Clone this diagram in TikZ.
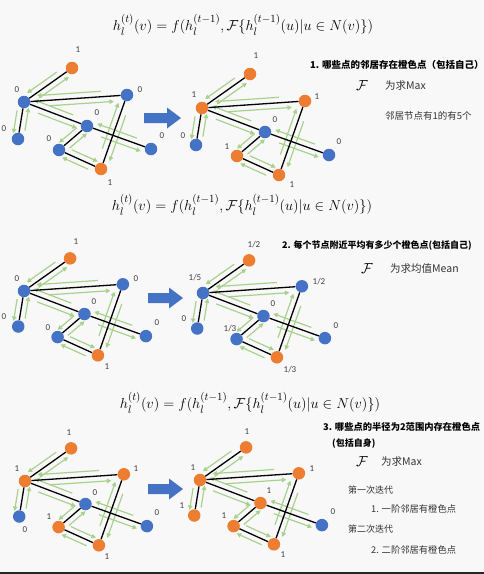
\documentclass[tikz,border=0pt]{standalone}
\usepackage{fontspec}
\usepackage{amsmath}
\newfontfamily\cjk{Noto Sans CJK SC}
\newfontfamily\labf{Carlito}
\usetikzlibrary{calc,arrows.meta}
\definecolor{nb}{HTML}{4472C4}
\definecolor{no}{HTML}{ED7D31}
\definecolor{ng}{HTML}{A9D18E}
\definecolor{bgc}{HTML}{F8F8F8}
\definecolor{txt}{HTML}{333333}
\definecolor{lbc}{HTML}{404040}
\pgfdeclarelayer{bg}\pgfdeclarelayer{mid}\pgfsetlayers{bg,mid,main}
\tikzset{
  nd/.style={circle,minimum size=12.5pt,inner sep=0pt,draw=none},
  edge/.style={black,line width=1.3pt},
  garrow/.style={ng,line width=1.2pt,-{Triangle[length=4.5pt,width=4.5pt]}},
  lbl/.style={font=\labf\fontsize{9}{10}\selectfont,text=lbc,inner sep=0pt},
  eqn/.style={inner sep=0pt,font=\fontsize{15.5}{18}\selectfont},
  head/.style={anchor=west,inner sep=0pt,font=\cjk\bfseries\fontsize{9}{11}\selectfont,text=black},
  body/.style={anchor=west,inner sep=0pt,font=\cjk\fontsize{9.3}{11}\selectfont,text=txt},
  calF/.style={inner sep=0pt,font=\fontsize{15}{17}\selectfont},
  barrow/.style={fill=nb,draw=none}
}
\newcommand\garr[3]{%
  \draw[garrow] ($(#1)!0.25!(#2)!5.5pt!#3:(#2)$) -- ($(#1)!0.87!(#2)!5.5pt!#3:(#2)$);
  \draw[garrow] ($(#2)!0.25!(#1)!5.5pt!#3:(#1)$) -- ($(#2)!0.87!(#1)!5.5pt!#3:(#1)$);
}
\newcommand\gpanel[9]{%
  \begin{scope}[#2]
    \node[nd,fill=#3] (#1T) at (48,-34) {};
    \node[nd,fill=#4] (#1A) at (0,0) {};
    \node[nd,fill=#5] (#1B) at (-6,37) {};
    \node[nd,fill=#6] (#1C) at (103,-7) {};
    \node[nd,fill=#7] (#1D) at (63,24) {};
    \node[nd,fill=#8] (#1E) at (35,48) {};
    \node[nd,fill=#9] (#1F) at (77,67) {};
    \node[nd,fill=nb] (#1G) at (127,47) {};
  \end{scope}
  \begin{pgfonlayer}{mid}
    \garr{#1T}{#1A}{-90}
    \garr{#1A}{#1C}{-90}
    \garr{#1A}{#1B}{-90}
    \garr{#1A}{#1D}{-90}
    \garr{#1D}{#1G}{-90}
    \garr{#1D}{#1E}{-90}
    \garr{#1E}{#1F}{90}
    \garr{#1F}{#1C}{90}
    \draw[edge] (#1T) -- (#1A);
    \draw[edge] (#1A) -- (#1C);
    \draw[edge] (#1A) -- (#1B);
    \draw[edge] (#1A) -- (#1D) -- (#1G);
    \draw[edge] (#1D) -- (#1E);
    \draw[edge] (#1E) -- (#1F);
    \draw[edge] (#1F) -- (#1C);
  \end{pgfonlayer}
}
\newcommand\lb[3]{\node[lbl] (#1) at (#2) {#3};}
\newcommand\bigarrow[3]{% x0, xtip, ycenter
  \fill[barrow] (#1,#3-5) -- (#2-14,#3-5) -- (#2-14,#3-10.5) -- (#2,#3) -- (#2-14,#3+10.5) -- (#2-14,#3+5) -- (#1,#3+5) -- cycle;
}
\newcommand\eqtext{$h_l^{(t)}(v)=f(h_l^{(t-1)},\mathcal{F}\{h_l^{(t-1)}(u)|u\in N(v)\})$}
\begin{document}
\begin{tikzpicture}[x=1pt,y=-1pt]
\useasboundingbox (0,0) rectangle (484,574);
\begin{pgfonlayer}{bg}
  \fill[bgc] (0,0) rectangle (484,574);
  \fill[black!85] (0,571.5) rectangle (484,574);
\end{pgfonlayer}

% ---------- Section 1 ----------
\node[eqn] (eq1) at (243,25) {\eqtext};
\gpanel{pa}{shift={(24,102)}}{no}{nb}{nb}{nb}{nb}{nb}{no}
\gpanel{pb}{shift={(202,108)}}{no}{no}{nb}{no}{nb}{no}{no}
\bigarrow{144}{181}{118}
\lb{laT}{78,50}{1}\lb{laA}{17,90}{0}\lb{laB}{4,129}{0}\lb{laC}{140,90}{0}
\lb{laD}{97,113}{0}\lb{laE}{49,139}{0}\lb{laF}{110,183}{1}\lb{laG}{162,136}{0}
\lb{lbT}{256,56}{1}\lb{lbA}{194,95}{1}\lb{lbB}{183,136}{0}\lb{lbC}{317,97}{1}
\lb{lbD}{275,120}{0}\lb{lbE}{227,147}{1}\lb{lbF}{292,185}{1}\lb{lbG}{339,142}{0}
\node[head,font=\cjk\bfseries\fontsize{9.5}{11}\selectfont] (h1) at (310,65) {1. 哪些点的邻居存在橙色点（包括自己）};
\node[calF] (F1) at (362,86) {$\mathcal{F}$};
\node[body,font=\cjk\fontsize{10.5}{12}\selectfont] (t1a) at (385,86) {为求Max};
\node[body,font=\cjk\fontsize{9.5}{11}\selectfont] (t1b) at (385,116) {邻居节点有1的有5个};

% ---------- Section 2 ----------
\node[eqn] (eq2) at (242,205) {\eqtext};
\gpanel{pc}{shift={(24,291)},scale=0.96}{no}{nb}{nb}{nb}{nb}{nb}{no}
\gpanel{pd}{shift={(203,293)},scale=0.96}{no}{nb}{nb}{nb}{nb}{nb}{no}
\bigarrow{148}{183}{298}
\lb{lcT}{76,242}{1}\lb{lcA}{17,279}{0}\lb{lcB}{4,317}{0}\lb{lcC}{136,279}{0}
\lb{lcD}{94,302}{0}\lb{lcE}{48,328}{0}\lb{lcF}{107,367}{1}\lb{lcG}{157,323}{0}
\lb{ldT}{254,245}{1/2}\lb{ldA}{195,278}{1/5}\lb{ldB}{184,319}{0}\lb{ldC}{319,282}{1/2}
\lb{ldD}{273,304}{0}\lb{ldE}{230,329}{1/3}\lb{ldF}{290,370}{1/3}\lb{ldG}{336,326}{0}
\node[head] (h2) at (282,246) {2. 每个节点附近平均有多少个橙色点(包括自己)};
\node[calF] (F2) at (367,269) {$\mathcal{F}$};
\node[body,font=\cjk\fontsize{10.5}{12}\selectfont] (t2a) at (390,269) {为求均值Mean};

% ---------- Section 3 ----------
\node[eqn] (eq3) at (250,403) {\eqtext};
\gpanel{pe}{shift={(25,481)},scale=0.96}{no}{no}{nb}{no}{nb}{no}{no}
\gpanel{pf}{shift={(200,480)},scale=0.96}{no}{no}{no}{no}{no}{no}{no}
\bigarrow{148}{183}{489}
\lb{leT}{69,433}{1}\lb{leA}{17,469}{1}\lb{leB}{25,530}{0}\lb{leC}{136,469}{1}
\lb{leD}{95,493}{0}\lb{leE}{49,517}{1}\lb{leF}{107,557}{1}\lb{leG}{157,513}{0}
\lb{lfT}{247,432}{1}\lb{lfA}{193,468}{1}\lb{lfB}{182,506}{1}\lb{lfC}{312,469}{1}
\lb{lfD}{269,491}{1}\lb{lfE}{224,516}{1}\lb{lfF}{283,555}{1}\lb{lfG}{333,512}{0}
\node[head,font=\cjk\bfseries\fontsize{9.3}{11}\selectfont] (h3) at (323,427) {3. 哪些点的半径为2范围内存在橙色点};
\node[head] (h3b) at (332,444) {(包括自身)};
\node[calF] (F3) at (362,462) {$\mathcal{F}$};
\node[body,font=\cjk\fontsize{10.5}{12}\selectfont] (t3a) at (381,462) {为求Max};
\node[body,font=\cjk\fontsize{9}{11}\selectfont] (t3b) at (348,490) {第一次迭代};
\node[body] (t3c) at (371,509) {1. 一阶邻居有橙色点};
\node[body,font=\cjk\fontsize{9}{11}\selectfont] (t3d) at (348,529) {第二次迭代};
\node[body] (t3e) at (371,550) {2. 二阶邻居有橙色点};
\end{tikzpicture}
\end{document}
